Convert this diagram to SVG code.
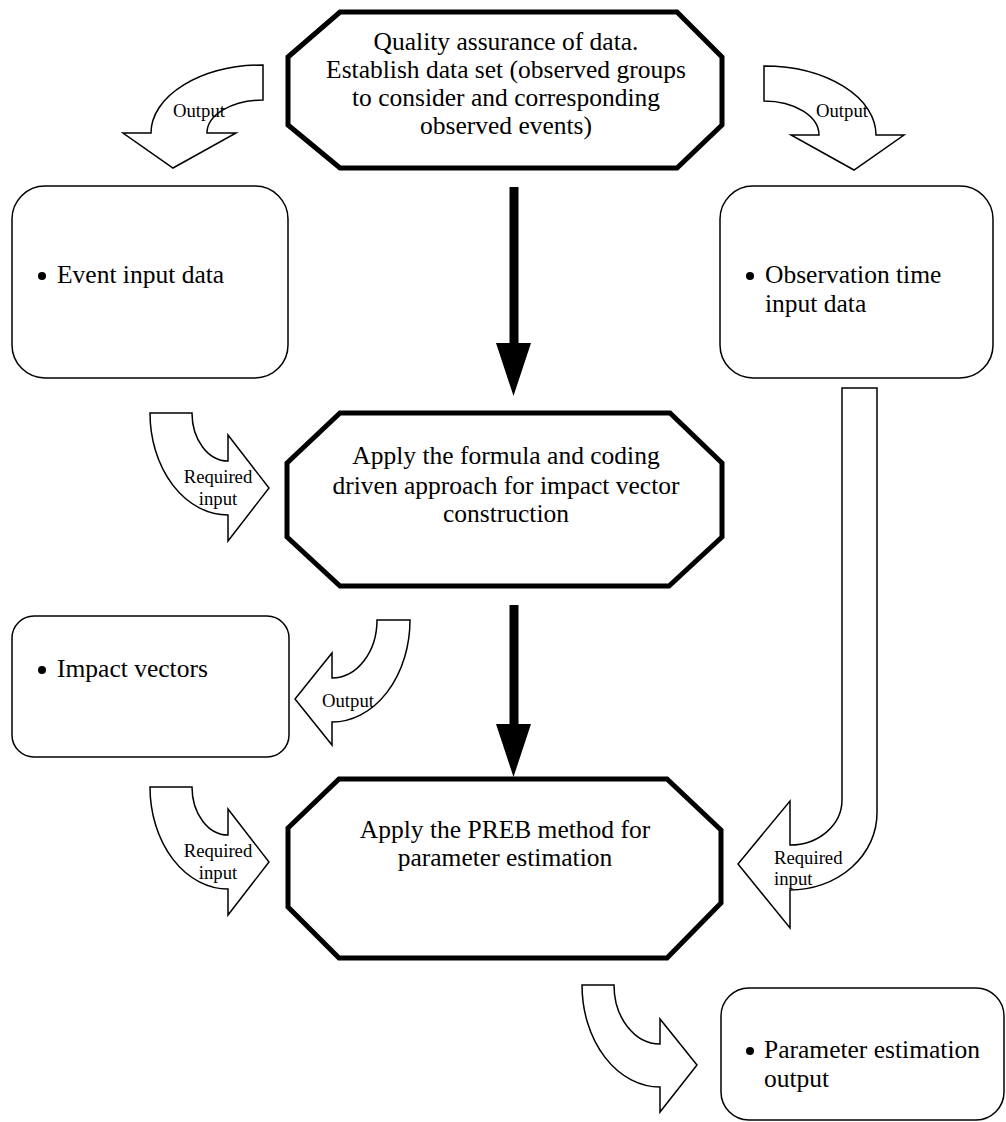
<svg xmlns="http://www.w3.org/2000/svg" width="1006" height="1122" viewBox="0 0 1006 1122">
<style>
text{font-family:"Liberation Serif","Times New Roman",serif;fill:#000}
.big{font-size:25.5px}
.lab{font-size:18.7px}
.c{text-anchor:middle}
.oct{fill:#fff;stroke:#000;stroke-width:5;stroke-linejoin:miter}
.box{fill:#fff;stroke:#000;stroke-width:1.5}
.blk{fill:#000;stroke:none}
.open{fill:#fff;stroke:#000;stroke-width:1.5;stroke-linejoin:miter}
</style>
<rect width="1006" height="1122" fill="#fff"/>
<g id="connectors">
<path class="blk" d="M509.5,187 L518.5,187 L518.5,343 L531,343 L513.5,396 L496,343 L509.5,343 Z"/>
<path class="blk" d="M509.5,605 L518.5,605 L518.5,724 L531,724 L513.5,777 L496,724 L509.5,724 Z"/>
<g id="out-left"><path class="open" d="M263,65 A112,68 0 0 0 151,133 L123,133 L173,168 L236,133 L207,133 A56,33 0 0 1 263,100 Z"/><text class="lab" x="173" y="117">Output</text></g>
<g id="out-right"><path class="open" d="M764,66 A112,69 0 0 1 876,135 L904,135 L854,170 L791,135 L819,135 A55,34 0 0 0 764,101 Z"/><text class="lab" x="816" y="117">Output</text></g>
<g id="req-1"><path class="open" d="M150,413 L192,413 A36,48 0 0 0 228,461 L228,435 L269,488 L228,541 L228,515 A78,102 0 0 1 150,413 Z"/><text class="lab c" x="218" y="483">Required</text><text class="lab c" x="218" y="505">input</text></g>
<g id="out-impact"><path class="open" d="M377,620 L410,620 A78,102 0 0 1 332,722 L332,745 L295,699 L332,653 L332,678 A45,58 0 0 0 377,620 Z"/><text class="lab" x="322" y="707">Output</text></g>
<g id="req-2"><path class="open" d="M150,787 L192,787 A36,48 0 0 0 228,835 L228,809 L269,862 L228,915 L228,889 A78,102 0 0 1 150,787 Z"/><text class="lab c" x="218" y="857">Required</text><text class="lab c" x="218" y="879">input</text></g>
<g id="req-3"><path class="open" d="M842,388 L877,388 L877,813 A87,77 0 0 1 790,890 L790,928 L738,864 L790,801 L790,845 A52,45 0 0 0 842,800 Z"/><text class="lab" x="774" y="864">Required</text><text class="lab" x="774" y="885">input</text></g>
<g id="out-final"><path class="open" d="M582,985 L614,985 A46,59 0 0 0 660,1044 L660,1019 L697,1065 L660,1112 L660,1087 A78,102 0 0 1 582,985 Z"/></g>
</g>
<g id="qa">
<polygon class="oct" points="340,12 677,12 722,57 722,125 677,168 340,168 288,125 288,57"/>
<text class="big c" x="506" y="50">Quality assurance of data.</text>
<text class="big c" x="506" y="78">Establish data set (observed groups</text>
<text class="big c" x="506" y="106">to consider and corresponding</text>
<text class="big c" x="506" y="134">observed events)</text>
</g>
<g id="event">
<rect class="box" x="12" y="186" width="276" height="192" rx="33"/>
<circle cx="42" cy="276" r="4"/>
<text class="big" x="57" y="283">Event input data</text>
</g>
<g id="obs">
<rect class="box" x="720" y="186" width="273" height="192" rx="33"/>
<circle cx="750" cy="276" r="4"/>
<text class="big" x="765" y="283">Observation time</text>
<text class="big" x="765" y="312">input data</text>
</g>
<g id="formula">
<polygon class="oct" points="340,413 670,413 722,463 722,537 669,586 340,586 287,537 287,463"/>
<text class="big c" x="506" y="464">Apply the formula and coding</text>
<text class="big c" x="506" y="494">driven approach for impact vector</text>
<text class="big c" x="506" y="522">construction</text>
</g>
<g id="impact">
<rect class="box" x="12" y="616" width="277" height="141" rx="22"/>
<circle cx="42" cy="670" r="4"/>
<text class="big" x="57" y="677">Impact vectors</text>
</g>
<g id="preb">
<polygon class="oct" points="339,779 667,779 721,830 721,903 667,958 339,958 288,907 288,828"/>
<text class="big c" x="505" y="838">Apply the PREB method for</text>
<text class="big c" x="505" y="866">parameter estimation</text>
</g>
<g id="param">
<rect class="box" x="721" y="988" width="283" height="132" rx="28"/>
<circle cx="750" cy="1051" r="4"/>
<text class="big" x="764" y="1058">Parameter estimation</text>
<text class="big" x="764" y="1087">output</text>
</g>
</svg>
